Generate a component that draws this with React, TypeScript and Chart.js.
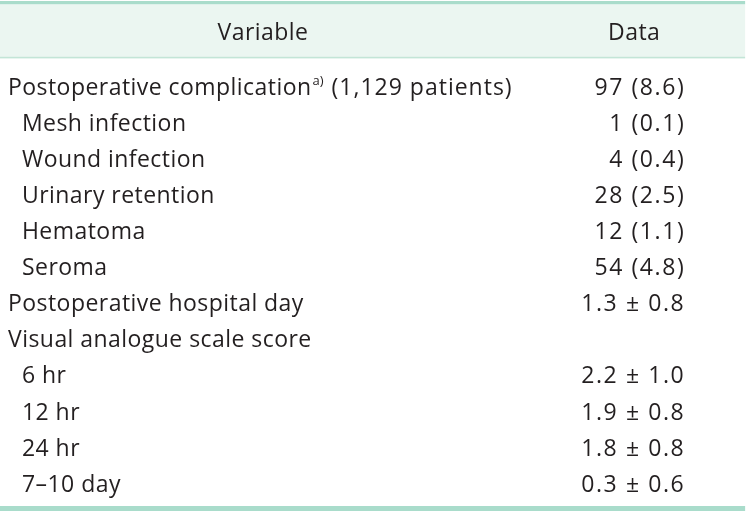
import React, { useEffect, useRef } from "react";
import { Chart, registerables } from "chart.js";

Chart.register(...registerables);

// ---- table content ----
const headers: string[] = ["Variable", "Data"];
const rowLabels: string[] = [
  "Postoperative complication",
  "Mesh infection",
  "Wound infection",
  "Urinary retention",
  "Hematoma",
  "Seroma",
  "Postoperative hospital day",
  "Visual analogue scale score",
  "6 hr",
  "12 hr",
  "24 hr",
  "7\u201310 day",
];
const rowNotes: string[] = ["a)", "", "", "", "", "", "", "", "", "", "", ""];
const rowTails: string[] = [" (1,129 patients)", "", "", "", "", "", "", "", "", "", "", ""];
const rowIndent: number[] = [0, 1, 1, 1, 1, 1, 0, 0, 1, 1, 1, 1];
const rowValues: string[] = [
  "97 (8.6)",
  "1 (0.1)",
  "4 (0.4)",
  "28 (2.5)",
  "12 (1.1)",
  "54 (4.8)",
  "1.3 \u00b1 0.8",
  "",
  "2.2 \u00b1 1.0",
  "1.9 \u00b1 0.8",
  "1.8 \u00b1 0.8",
  "0.3 \u00b1 0.6",
];

const FONT_FAMILY = "'Open Sans', Lato, sans-serif";
const TEXT = "#231f20";
const BORDER = "#a9dccb";
const HEAD_BG = "#ebf6f1";
const HEAD_LINE = "#c3e5d7";

function setSpacing(ctx: any, px: number) {
  if ("letterSpacing" in ctx) ctx.letterSpacing = `${px}px`;
}

const tablePlugin = {
  id: "tableCells",
  beforeDraw(chart: any) {
    const { ctx, chartArea } = chart;
    const xs = chart.scales.x;
    const left = xs.getPixelForValue(0);
    const right = xs.getPixelForValue(99.75);
    ctx.save();
    ctx.fillStyle = BORDER;
    ctx.fillRect(left, 1, right - left, 3.5);
    ctx.fillStyle = HEAD_BG;
    ctx.fillRect(left, 4.5, right - left, 52.5);
    ctx.fillStyle = HEAD_LINE;
    ctx.fillRect(left, 56.8, right - left, 1.6);
    ctx.fillStyle = BORDER;
    ctx.fillRect(left, chartArea.bottom + 4.5, right - left, 5);
    ctx.restore();
  },
  afterDraw(chart: any) {
    const { ctx } = chart;
    const xs = chart.scales.x;
    const ys = chart.scales.y;
    ctx.save();
    ctx.fillStyle = TEXT;
    ctx.textBaseline = "alphabetic";
    ctx.font = `23px ${FONT_FAMILY}`;
    setSpacing(ctx, 0.45);
    // header
    ctx.textAlign = "center";
    ctx.fillText(headers[0], xs.getPixelForValue(35.2), 39.5);
    ctx.fillText(headers[1], xs.getPixelForValue(84.9), 39.5);
    // rows
    for (let i = 0; i < rowLabels.length; i++) {
      const yc = ys.getPixelForValue(i);
      const base = yc + 8.3;
      let x = xs.getPixelForValue(1.07 + rowIndent[i] * 1.87);
      ctx.textAlign = "left";
      ctx.font = `23px ${FONT_FAMILY}`;
      setSpacing(ctx, 0.45);
      ctx.fillText(rowLabels[i], x, base);
      x += ctx.measureText(rowLabels[i]).width;
      if (rowNotes[i]) {
        ctx.font = `13px ${FONT_FAMILY}`;
        setSpacing(ctx, 0);
        ctx.fillText(rowNotes[i], x + 1, base - 10);
        x += 1 + ctx.measureText(rowNotes[i]).width;
        ctx.font = `23px ${FONT_FAMILY}`;
      }
      if (rowTails[i]) {
        setSpacing(ctx, 1.0);
        ctx.fillText(rowTails[i], x + 1, base);
      }
      ctx.textAlign = "right";
      setSpacing(ctx, 1.6);
      ctx.fillText(rowValues[i], xs.getPixelForValue(91.75), base);
    }
    ctx.restore();
  },
};

export default function App() {
  const ref = useRef<HTMLCanvasElement | null>(null);
  useEffect(() => {
    document.body.style.margin = "0";
    const canvas = ref.current;
    if (!canvas) return;
    const chart = new Chart(canvas, {
      type: "bar",
      data: {
        labels: rowLabels,
        datasets: [],
      },
      options: {
        indexAxis: "y",
        animation: false,
        responsive: false,
        maintainAspectRatio: false,
        layout: { padding: { top: 68.2, bottom: 10.5, left: 0, right: 0 } },
        plugins: { legend: { display: false }, tooltip: { enabled: false }, title: { display: false } },
        scales: {
          x: { type: "linear", min: 0, max: 100, display: false },
          y: { type: "category", offset: true, display: false },
        },
      },
      plugins: [tablePlugin],
    } as any);
    return () => chart.destroy();
  }, []);
  return (
    <div style={{ width: 747, height: 512, background: "#ffffff" }}>
      <canvas ref={ref} width={747} height={512} style={{ display: "block" }} />
    </div>
  );
}
